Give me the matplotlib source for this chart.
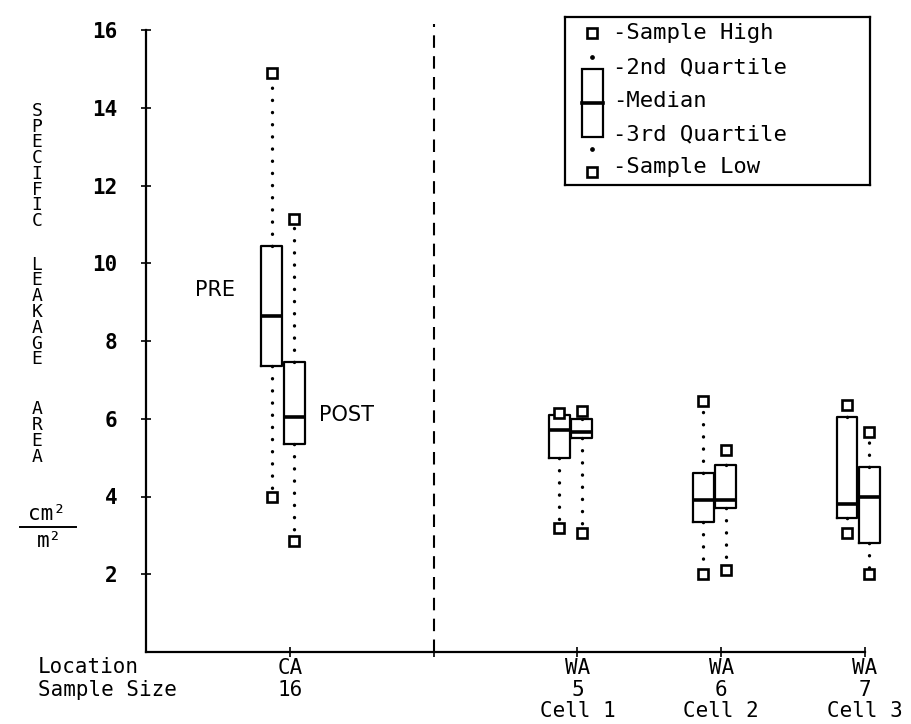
import matplotlib
matplotlib.use("Agg")
import matplotlib.pyplot as plt
from matplotlib.lines import Line2D

# Data (specific leakage area, cm2/m2)
groups = ["CA", "WA", "WA", "WA"]
sample_sizes = ["16", "5", "6", "7"]
cells = ["", "Cell 1", "Cell 2", "Cell 3"]
group_x = [1, 3, 4, 5]

pre_high = [14.9, 6.15, 6.45, 6.35]
pre_q3 = [10.45, 6.1, 4.6, 6.05]
pre_med = [8.65, 5.7, 3.9, 3.8]
pre_q1 = [7.35, 5.0, 3.35, 3.45]
pre_low = [4.0, 3.2, 2.0, 3.05]

post_high = [11.15, 6.2, 5.2, 5.65]
post_q3 = [7.45, 6.0, 4.8, 4.75]
post_med = [6.05, 5.65, 3.9, 4.0]
post_q1 = [5.35, 5.5, 3.7, 2.8]
post_low = [2.85, 3.05, 2.1, 2.0]

yticks = [2, 4, 6, 8, 10, 12, 14, 16]

MONO = "DejaVu Sans Mono"
plt.rcParams["font.family"] = MONO

fig = plt.figure(figsize=(9.11, 7.24), dpi=100)
ax = fig.add_axes([146/911, 72/724, 719/911, 622/724])


def stats(high, q3, med, q1, low):
    out = []
    for i in range(len(med)):
        out.append({"med": med[i], "q1": q1[i], "q3": q3[i],
                    "whislo": low[i], "whishi": high[i], "fliers": []})
    return out


def draw(a, st, pos, width, low, high):
    res = a.bxp(st, positions=pos, widths=width, showcaps=False,
                boxprops=dict(color="black", lw=1.6),
                medianprops=dict(color="black", lw=2.6),
                whiskerprops=dict(color="black", lw=2.4, linestyle=(0, (0.05, 3.6)),
                                  dash_capstyle="round"),
                manage_ticks=False)
    for k in res:
        for art in res[k]:
            art.set_clip_on(False)
    a.plot(pos, low, ls="none", marker="s", ms=7, mew=1.9, mec="black",
           mfc="white", clip_on=False, zorder=5)
    a.plot(pos, high, ls="none", marker="s", ms=7, mew=1.9, mec="black",
           mfc="white", clip_on=False, zorder=5)


pre_pos = [x - 0.125 for x in group_x]
post_pos = [x + 0.03 for x in group_x]
draw(ax, stats(pre_high, pre_q3, pre_med, pre_q1, pre_low), pre_pos, 0.145, pre_low, pre_high)
draw(ax, stats(post_high, post_q3, post_med, post_q1, post_low), post_pos, 0.145, post_low, post_high)

# divider between CA and WA
ax.axvline(2, ymax=1.01, color="black", lw=1.5, linestyle=(0, (6, 4)), clip_on=False)

ax.set_xlim(0, 5)
ax.set_ylim(0, 16)
for s in ["top", "right"]:
    ax.spines[s].set_visible(False)
for s in ["left", "bottom"]:
    ax.spines[s].set_linewidth(1.6)

ax.set_yticks(yticks)
ax.set_yticklabels([str(t) for t in yticks], fontsize=15, fontweight="bold")
ax.tick_params(axis="y", direction="inout", length=7, width=1.2, pad=17)

xlabels = []
for g, n, c in zip(groups, sample_sizes, cells):
    xlabels.append(g + "\n" + n + ("\n" + c if c else ""))
ax.set_xticks(group_x + [2])
ax.set_xticklabels(xlabels + [""], fontsize=15, linespacing=1.1)
ax.tick_params(axis="x", direction="inout", length=7, width=1.2, pad=1)

ax.text(0.62, 9.3, "PRE", ha="right", va="center", fontsize=15, family="DejaVu Sans")
ax.text(1.2, 6.1, "POST", ha="left", va="center", fontsize=15, family="DejaVu Sans")

# left side labels
fig.text(38/911, 1 - 667/724, "Location", fontsize=15, va="center")
fig.text(38/911, 1 - 690/724, "Sample Size", fontsize=15, va="center")

for word, yc in [("SPECIFIC", 166), ("LEAKAGE", 312), ("AREA", 433)]:
    fig.text(37/911, 1 - yc/724, "\n".join(word), fontsize=13, ha="center",
             va="center", linespacing=0.84)
fig.text(47/911, 1 - 514/724, "cm²", fontsize=15, ha="center", va="center")
fig.add_artist(Line2D([20/911, 76/911], [1 - 527/724, 1 - 527/724], color="black", lw=1.4))
fig.text(50/911, 1 - 541/724, "m²", fontsize=15, ha="center", va="center")

# legend box drawn as a small inset
lg = fig.add_axes([565/911, 1 - 185/724, 305/911, 168/724])
lg.set_xlim(0, 305)
lg.set_ylim(168, 0)
lg.set_xticks([])
lg.set_yticks([])
for s in lg.spines.values():
    s.set_linewidth(1.6)
key_x = 27
lg.add_patch(plt.Rectangle((17, 52), 21, 68, fill=False, lw=1.6))
lg.plot([17, 38], [86, 86], color="black", lw=2.6)
lg.plot([key_x, key_x], [40, 132], ls="none", marker="o", ms=2.4, color="black")
lg.plot([key_x, key_x], [16, 155], ls="none", marker="s", ms=7, mew=1.9,
        mec="black", mfc="white")
legend_items = ["-Sample High", "-2nd Quartile", "-Median", "-3rd Quartile", "-Sample Low"]
for txt, yy in zip(legend_items, [16, 50, 84, 117, 150]):
    lg.text(48, yy, txt, fontsize=16, va="center", ha="left")

fig.savefig("out.png", dpi=100)
